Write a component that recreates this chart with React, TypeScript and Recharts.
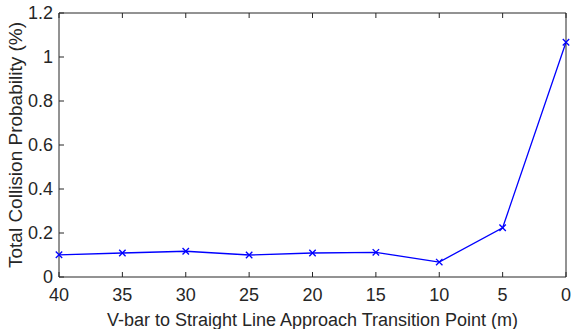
import { LineChart, Line, XAxis, YAxis } from 'recharts';

const transitionPoints = [40, 35, 30, 25, 20, 15, 10, 5, 0];
const collisionProb = [0.101, 0.109, 0.117, 0.1, 0.109, 0.112, 0.068, 0.224, 1.067];
const xTicks = [40, 35, 30, 25, 20, 15, 10, 5, 0];
const yTicks = [0, 0.2, 0.4, 0.6, 0.8, 1, 1.2];

const data = transitionPoints.map((x, i) => ({ x, p: collisionProb[i] }));

const AXIS = '#262626';
const FONT = '"Liberation Sans", Arial, Helvetica, sans-serif';
const TICK_LEN = 5;

const fmtY = (v: number) => String(Number(v.toFixed(1)));

// MATLAB-style inward ticks
const BottomTick = ({ x, y, payload }: any) => (
  <g>
    <line x1={x} x2={x} y1={y} y2={y - TICK_LEN} stroke={AXIS} strokeWidth={1} />
    <text x={x} y={y + 24} textAnchor="middle" fontSize={18} fontFamily={FONT} fill={AXIS}>
      {payload.value}
    </text>
  </g>
);

const TopTick = ({ x, y }: any) => (
  <line x1={x} x2={x} y1={y} y2={y + TICK_LEN} stroke={AXIS} strokeWidth={1} />
);

const LeftTick = ({ x, y, payload }: any) => (
  <g>
    <line x1={x} x2={x + TICK_LEN} y1={y} y2={y} stroke={AXIS} strokeWidth={1} />
    <text x={x - 6} y={y} dy="0.36em" textAnchor="end" fontSize={18} fontFamily={FONT} fill={AXIS}>
      {fmtY(payload.value)}
    </text>
  </g>
);

const RightTick = ({ x, y }: any) => (
  <line x1={x} x2={x - TICK_LEN} y1={y} y2={y} stroke={AXIS} strokeWidth={1} />
);

const CrossDot = ({ cx, cy }: any) => {
  if (cx == null || cy == null) return null;
  const s = 3.2;
  return (
    <g stroke="#0000ff" strokeWidth={1.3}>
      <line x1={cx - s} y1={cy - s} x2={cx + s} y2={cy + s} />
      <line x1={cx - s} y1={cy + s} x2={cx + s} y2={cy - s} />
    </g>
  );
};

export default function App() {
  return (
    <div style={{ position: 'absolute', left: 0, top: 0, background: '#fff' }}>
      <LineChart width={571} height={329} data={data} margin={{ top: 12, right: 4, bottom: 0, left: 0 }}>
        <XAxis
          dataKey="x"
          type="number"
          domain={[0, 40]}
          reversed
          ticks={xTicks}
          height={52}
          tickSize={0}
          tickMargin={0}
          tickLine={false}
          axisLine={{ stroke: AXIS, strokeWidth: 1 }}
          tick={<BottomTick />}
          interval={0}
          label={({ viewBox }: any) => (
            <text
              x={viewBox.x + viewBox.width / 2}
              y={326}
              textAnchor="middle"
              fontSize={18}
              fontFamily={FONT}
              fill={AXIS}
            >
              V-bar to Straight Line Approach Transition Point (m)
            </text>
          )}
        />
        <XAxis
          xAxisId="top"
          dataKey="x"
          type="number"
          orientation="top"
          domain={[0, 40]}
          reversed
          ticks={xTicks}
          height={1}
          tickSize={0}
          tickMargin={0}
          tickLine={false}
          axisLine={{ stroke: AXIS, strokeWidth: 1 }}
          tick={<TopTick />}
          interval={0}
        />
        <YAxis
          type="number"
          domain={[0, 1.2]}
          ticks={yTicks}
          width={59}
          tickSize={0}
          tickMargin={0}
          tickLine={false}
          axisLine={{ stroke: AXIS, strokeWidth: 1 }}
          tick={<LeftTick />}
          interval={0}
          label={({ viewBox }: any) => {
            const cy = viewBox.y + viewBox.height / 2;
            return (
              <text
                x={22}
                y={cy}
                transform={`rotate(-90, 22, ${cy})`}
                textAnchor="middle"
                fontSize={19}
                fontFamily={FONT}
                fill={AXIS}
              >
                Total Collision Probability (%)
              </text>
            );
          }}
        />
        <YAxis
          yAxisId="right"
          orientation="right"
          type="number"
          domain={[0, 1.2]}
          ticks={yTicks}
          width={1}
          tickSize={0}
          tickMargin={0}
          tickLine={false}
          axisLine={{ stroke: AXIS, strokeWidth: 1 }}
          tick={<RightTick />}
          interval={0}
        />
        <Line
          type="linear"
          dataKey="p"
          stroke="#0000ff"
          strokeWidth={1.3}
          dot={<CrossDot />}
          activeDot={false}
          isAnimationActive={false}
        />
      </LineChart>
    </div>
  );
}
